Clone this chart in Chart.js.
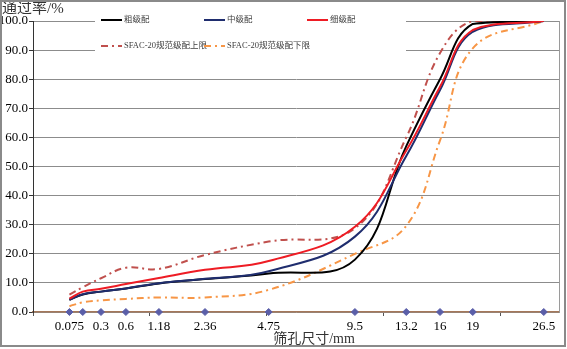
<!DOCTYPE html>
<html>
<head>
<meta charset="utf-8">
<script src="https://cdn.jsdelivr.net/npm/chart.js@4.4.1/dist/chart.umd.min.js"></script>
<style>
  html, body { margin: 0; padding: 0; background: #fff; }
  #wrap { width: 567px; height: 349px; }
</style>
</head>
<body>
<div id="wrap"><canvas id="gradationChart" width="567" height="349"></canvas></div>
<script>
// ========== DATA ==========
const sieveSizes  = [0.075, 0.15, 0.3, 0.6, 1.18, 2.36, 4.75, 9.5, 13.2, 16, 19, 26.5];
const sieveLabels = ['0.075', '', '0.3', '0.6', '1.18', '2.36', '4.75', '9.5', '13.2', '16', '19', '26.5'];

const coarsePass = [4.2, 6.0, 7.0, 8.1, 9.8, 11.3, 13.2, 18.0, 57.0, 80.0, 99.0, 100];
const mediumPass = [4.2, 6.1, 7.0, 8.1, 9.9, 11.4, 14.0, 25.9, 53.6, 76.3, 96.3, 100];
const finePass   = [4.6, 7.0, 8.0, 9.6, 11.7, 14.5, 17.5, 29.3, 55.5, 77.4, 96.9, 100];
const upperLimit = [6.0, 8.5, 11.6, 15.2, 14.8, 19.6, 24.2, 28.8, 60.0, 89.0, 100, 100];
const lowerLimit = [2.0, 3.3, 4.0, 4.5, 5.0, 5.0, 7.6, 20.0, 29.6, 59.0, 90.6, 100];

const xMajorTicks = [0, 1, 2, 3, 4];

// gradation chart x axis: sieve size ^ 0.45
const POWER = 0.45;
function px(d) { return Math.pow(d, POWER); }

function toPoints(values) {
    return sieveSizes.map((d, i) => ({ x: px(d), y: values[i] }));
}

const SERIF = "'Liberation Serif', 'Noto Sans CJK SC', serif";

// ========== LEGEND / TITLES ==========
const legendSlots = [
    { x: 101, y: 20 }, { x: 204, y: 20 }, { x: 307, y: 20 },
    { x: 101, y: 46 }, { x: 204, y: 46 }
];

const overlayPlugin = {
    id: 'overlay',
    afterDraw(chart) {
        const ctx = chart.ctx;
        ctx.save();

        // legend sits on top of the plot like in Excel
        ctx.fillStyle = '#fff';
        ctx.fillRect(95, 8, 311, 56);

        const items = chart.data.datasets.filter(ds => ds.inLegend);
        items.forEach((ds, i) => {
            const slot = legendSlots[i];
            ctx.beginPath();
            ctx.strokeStyle = ds.borderColor;
            ctx.lineWidth = ds.borderWidth;
            ctx.setLineDash(ds.borderDash || []);
            ctx.moveTo(slot.x, slot.y);
            ctx.lineTo(slot.x + 21, slot.y);
            ctx.stroke();
            ctx.setLineDash([]);
            ctx.fillStyle = '#404040';
            ctx.font = '8.5px ' + SERIF;
            ctx.textAlign = 'left';
            ctx.textBaseline = 'middle';
            ctx.fillText(ds.label, slot.x + 23, slot.y);
        });

        // axis titles
        ctx.fillStyle = '#333';
        ctx.font = '15px ' + SERIF;
        ctx.textAlign = 'left';
        ctx.textBaseline = 'middle';
        ctx.fillText('通过率/%', 2, 9);

        ctx.font = '14px ' + SERIF;
        ctx.textAlign = 'center';
        ctx.fillText('筛孔尺寸/mm', 314, 339);

        // outer frame
        ctx.strokeStyle = '#8a8a8a';
        ctx.lineWidth = 2;
        ctx.strokeRect(1, 1, 564, 345);
        ctx.restore();
    }
};

// ========== CHART ==========
function lineSet(label, values, color, dash, order) {
    return {
        label: label,
        data: toPoints(values),
        borderColor: color,
        backgroundColor: color,
        borderWidth: 2,
        borderDash: dash,
        pointRadius: 0,
        tension: 0.4,
        fill: false,
        order: order,
        inLegend: true
    };
}

const DASH_DOT = [7, 4, 2, 4];

new Chart(document.getElementById('gradationChart'), {
    type: 'line',
    data: {
        datasets: [
            lineSet('粗级配', coarsePass, '#000000', [], 2),
            lineSet('中级配', mediumPass, '#1f2d6e', [], 1),
            lineSet('细级配', finePass, '#ee1c24', [], 0),
            lineSet('SFAC-20规范级配上限', upperLimit, '#c0504d', DASH_DOT, 3),
            lineSet('SFAC-20规范级配下限', lowerLimit, '#f79646', DASH_DOT, 4),
            {
                label: 'sieve',
                data: sieveSizes.map(d => ({ x: px(d), y: 0 })),
                showLine: false,
                pointStyle: 'rectRot',
                pointRadius: 3.5,
                pointBackgroundColor: '#5a5ea8',
                pointBorderColor: '#5a5ea8',
                clip: false,
                order: -1,
                inLegend: false
            }
        ]
    },
    options: {
        responsive: false,
        devicePixelRatio: 1,
        animation: false,
        layout: { padding: { left: 0, top: 21, right: 8, bottom: 0 } },
        plugins: {
            legend: { display: false },
            tooltip: { enabled: false }
        },
        scales: {
            x: {
                type: 'linear',
                position: 'bottom',
                min: 0,
                max: 4.5,
                afterBuildTicks: s => { s.ticks = xMajorTicks.map(v => ({ value: v })); },
                ticks: { display: false },
                grid: { drawOnChartArea: false, drawTicks: true, tickLength: 4, color: '#555' },
                border: { color: '#a5785a', width: 1.5 },
                afterFit: s => { s.height = 4; }
            },
            x2: {
                type: 'linear',
                position: 'bottom',
                min: 0,
                max: 4.5,
                afterBuildTicks: s => { s.ticks = sieveSizes.map(d => ({ value: px(d) })); },
                ticks: {
                    autoSkip: false,
                    maxRotation: 0,
                    padding: 3,
                    color: '#000',
                    font: { family: SERIF, size: 13 },
                    callback: (v, i) => sieveLabels[i]
                },
                grid: { display: false, drawTicks: false, tickLength: 0 },
                border: { display: false },
                afterFit: s => { s.height = 33; }
            },
            y: {
                min: 0,
                max: 100,
                ticks: {
                    stepSize: 10,
                    padding: 1,
                    color: '#000',
                    font: { family: SERIF, size: 13 },
                    callback: v => v.toFixed(1)
                },
                grid: { color: '#8c8c8c', lineWidth: 1, tickLength: 4, tickColor: '#333' },
                border: { color: '#333', width: 1 },
                afterFit: s => { s.width = 33; }
            },
            y2: {
                position: 'right',
                min: 0,
                max: 100,
                ticks: { display: false },
                grid: { display: false },
                border: { display: true, color: '#9a9a9a', width: 1 },
                afterFit: s => { s.width = 0; }
            }
        }
    },
    plugins: [overlayPlugin]
});
</script>
</body>
</html>
